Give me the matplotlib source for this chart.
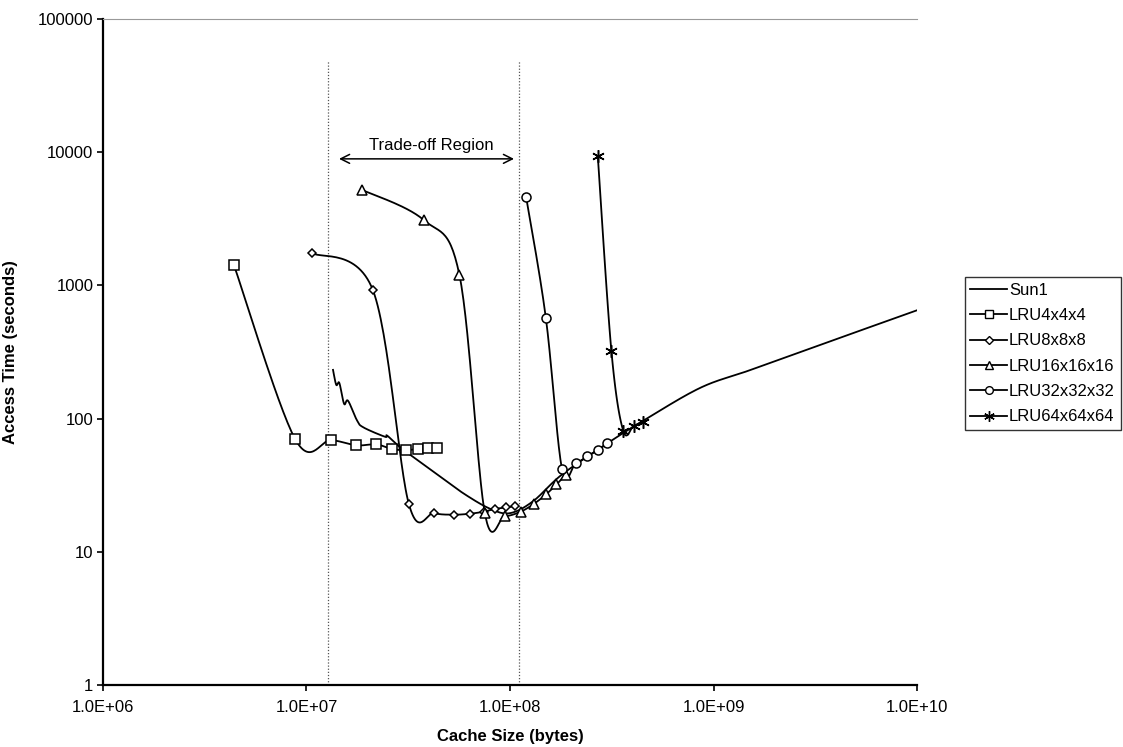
import matplotlib
matplotlib.use("Agg")
import matplotlib.pyplot as plt
import numpy as np
from matplotlib.ticker import FixedLocator, FuncFormatter

plt.rcParams['font.family'] = ['Liberation Sans', 'DejaVu Sans']

# cache sizes (bytes) and access times (seconds)
lru4_x = [4.4e6, 8.8e6, 1.32e7, 1.76e7, 2.2e7, 2.64e7, 3.08e7, 3.52e7, 3.96e7, 4.4e7]
lru4_y = [1420, 70, 69, 63, 64, 59, 58, 59, 60, 60]

lru8_x = [1.06e7, 2.12e7, 3.18e7, 4.24e7, 5.3e7, 6.36e7, 7.42e7, 8.48e7, 9.54e7, 1.06e8]
lru8_y = [1750, 920, 23, 19.5, 19, 19.3, 20, 21, 21.5, 22]

lru16_x = [1.88e7, 3.76e7, 5.64e7, 7.52e7, 9.4e7, 1.128e8, 1.316e8, 1.504e8, 1.692e8, 1.88e8]
lru16_y = [5200, 3100, 1200, 19.5, 18.5, 20, 23, 27, 32, 38]

lru32_x = [1.2e8, 1.5e8, 1.8e8, 2.1e8, 2.4e8, 2.7e8, 3.0e8]
lru32_y = [4600, 570, 42, 46, 52, 58, 65]

lru64_x = [2.7e8, 3.15e8, 3.6e8, 4.05e8, 4.5e8]
lru64_y = [9300, 320, 81, 88, 95]

sun1_x = [1.35e7, 1.40e7, 1.45e7, 1.53e7, 1.60e7, 1.77e7, 1.90e7, 2.43e7, 2.49e7, 2.88e7,
          3.5e7, 4.5e7, 6.0e7, 8.0e7, 1.0e8, 1.3e8, 1.8e8, 3.0e8, 4.5e8, 8.6e8,
          1.5e9, 3.0e9, 6.0e9, 1.0e10]
sun1_y = [232, 179, 185, 129, 136, 97, 86, 73, 74.5, 61,
          49, 37, 27, 21, 19.5, 24, 38, 65, 96, 170,
          230, 337, 492, 650]

trade_lo = 1.28e7
trade_hi = 1.11e8

x_ticks = [1e6, 1e7, 1e8, 1e9, 1e10]
y_ticks = [1, 10, 100, 1000, 10000, 100000]


def smooth(xs, ys, n=30):
    # Excel style smoothed line: Catmull-Rom bezier in log-log space
    p = np.column_stack([np.log10(xs), np.log10(ys)])
    if len(p) < 3:
        return np.asarray(xs), np.asarray(ys)
    ext = np.vstack([p[0], p, p[-1]])
    t = np.linspace(0, 1, n)[:, None]
    out = [p[:1]]
    for i in range(1, len(ext) - 2):
        p0, p1, p2, p3 = ext[i - 1], ext[i], ext[i + 1], ext[i + 2]
        c1 = p1 + (p2 - p0) / 6.0
        c2 = p2 - (p3 - p1) / 6.0
        seg = ((1 - t) ** 3) * p1 + 3 * ((1 - t) ** 2) * t * c1 + 3 * (1 - t) * t ** 2 * c2 + t ** 3 * p2
        out.append(seg[1:])
    out = np.vstack(out)
    return 10 ** out[:, 0], 10 ** out[:, 1]


fig = plt.figure(figsize=(11.23, 7.47), dpi=100)
ax = fig.add_axes([0.0917, 0.083, 0.7249, 0.8917])

series = [
    ("Sun1", sun1_x, sun1_y, None, 0),
    ("LRU4x4x4", lru4_x, lru4_y, 's', 7),
    ("LRU8x8x8", lru8_x, lru8_y, 'D', 4.5),
    ("LRU16x16x16", lru16_x, lru16_y, '^', 6.5),
    ("LRU32x32x32", lru32_x, lru32_y, 'o', 6.5),
    ("LRU64x64x64", lru64_x, lru64_y, (6, 2, 0), 9),
]

handles = []
for name, xs, ys, mk, ms in series:
    sx, sy = smooth(xs, ys)
    ax.plot(sx, sy, color='black', lw=1.3, zorder=3)
    if mk is not None:
        ax.plot(xs, ys, linestyle='none', marker=mk, markersize=ms,
                markerfacecolor='white', markeredgecolor='black', markeredgewidth=1.1, zorder=4)
    h, = ax.plot([], [], color='black', lw=1.3, marker=mk, markersize=ms * 0.85,
                 markerfacecolor='white', markeredgecolor='black', markeredgewidth=1.0)
    handles.append((h, name))

for xv in (trade_lo, trade_hi):
    ax.plot([xv, xv], [1, 4.9e4], color='#555555', lw=0.9, linestyle=(0, (1, 1.5)), zorder=2)

ax.annotate('', xy=(1.40e7, 8900), xytext=(1.08e8, 8900),
            arrowprops=dict(arrowstyle='<->', color='black', lw=1.1, mutation_scale=16))
ax.text(4.09e7, 11300, 'Trade-off Region', ha='center', va='center', fontsize=12)

ax.set_xscale('log')
ax.set_yscale('log')
ax.set_xlim(1e6, 1e10)
ax.set_ylim(1, 1e5)
ax.xaxis.set_major_locator(FixedLocator(x_ticks))
ax.yaxis.set_major_locator(FixedLocator(y_ticks))
ax.xaxis.set_minor_locator(FixedLocator([]))
ax.yaxis.set_minor_locator(FixedLocator([]))
ax.xaxis.set_major_formatter(FuncFormatter(lambda v, p: '%.1fE+%02d' % (v / 10 ** int(round(np.log10(v))), int(round(np.log10(v))))))
ax.yaxis.set_major_formatter(FuncFormatter(lambda v, p: '%d' % v))
ax.tick_params(axis='both', direction='out', length=4, width=1.2, labelsize=12)
ax.tick_params(axis='y', pad=3)
ax.tick_params(axis='x', pad=7)

for s in ('left', 'bottom'):
    ax.spines[s].set_linewidth(1.6)
ax.spines['right'].set_visible(False)
ax.spines['top'].set_color('#999999')
ax.spines['top'].set_linewidth(0.8)

ax.set_xlabel('Cache Size (bytes)', fontsize=12, fontweight='bold', labelpad=10)
ax.set_ylabel('Access Time (seconds)', fontsize=12, fontweight='bold')
ax.yaxis.set_label_coords(-0.105, 0.5)

leg = fig.legend([h for h, _ in handles], [n for _, n in handles],
                 loc='upper left', bbox_to_anchor=(0.859, 0.629), frameon=True, fancybox=False,
                 edgecolor='black', fontsize=12, handlelength=2.2, handletextpad=0.12,
                 borderpad=0.34, labelspacing=0.62, borderaxespad=0)
leg.get_frame().set_linewidth(1.0)

fig.savefig('out.png', dpi=100)
